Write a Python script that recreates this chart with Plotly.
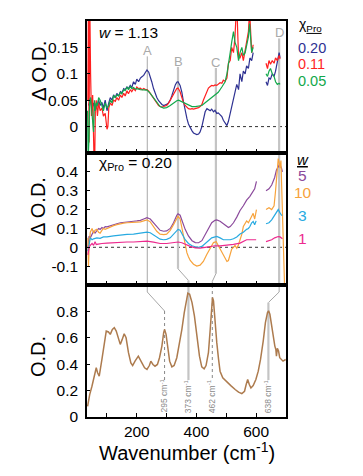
import plotly.graph_objects as go

# ---------------- data ----------------
# Top panel (w = 1.13): ΔO.D. for three χPro values
top_blue_x = [38,44,50,55,60,66,72,77,83,88,94,100,106,111,117,122,128,133,139,145,150,156,161,167,172,178,183,189,195,200,206,212,218,223,229,234,240,245,250,256,262,267,273,278,284,290,300,306,312,317,323,329,334,338,345,351,356,362,368,373,379,385,390,396,401,407,412,418,423,429,435,440,446,451,457,462,468,473,479,485,490,496,502,507,513,518,524,529,535,541,546,552,557,563,568,574,579,585,590,
              None,633,638,643,648,654,660,665,671,677,680]
top_blue_y = [0.04,0.05,0.035,0.045,0.03,0.038,0.05,0.04,0.046,0.035,0.05,0.03,0.045,0.055,0.05,0.06,0.055,0.063,0.058,0.066,0.064,0.072,0.07,0.075,0.072,0.078,0.074,0.085,0.08,0.09,0.085,0.092,0.095,0.097,0.103,0.107,0.103,0.095,0.085,0.072,0.062,0.055,0.049,0.045,0.042,0.04,0.042,0.045,0.05,0.058,0.07,0.079,0.084,0.085,0.078,0.065,0.048,0.03,0.015,0.005,-0.003,-0.008,-0.012,-0.014,-0.015,-0.014,-0.01,0.0,0.015,0.028,0.034,0.032,0.03,0.033,0.028,0.031,0.025,0.026,0.022,0.019,0.012,0.006,0.002,0.01,0.025,0.04,0.05,0.065,0.08,0.07,0.1,0.085,0.105,0.1,0.115,0.11,0.13,0.125,0.14,
              None,0.085,0.078,0.092,0.09,0.1,0.095,0.105,0.12,0.14,0.13]
top_red_x = [36,38,40,42,45,48,52,55,58,61,64,68,72,77,83,88,94,100,103,106,111,117,122,128,133,139,145,150,156,161,167,172,178,183,189,195,200,206,212,218,223,229,234,240,245,250,256,262,267,273,278,284,290,300,306,312,317,323,329,334,338,345,351,356,362,368,373,379,385,390,396,401,407,412,418,423,429,435,440,446,451,457,462,468,473,479,485,490,496,502,507,513,518,524,529,532,535,538,541,546,552,557,563,568,574,578,581,585,590,
             None,633,638,643,648,654,660,665,671,677,680]
top_red_y = [0.05,0.25,-0.03,0.25,0.1,0.02,0.06,-0.08,-0.1,0.03,0.05,0.02,0.045,0.03,0.035,0.02,0.025,-0.005,0.0,0.035,0.045,0.04,0.05,0.048,0.055,0.05,0.06,0.055,0.063,0.058,0.068,0.062,0.07,0.066,0.072,0.068,0.075,0.072,0.073,0.07,0.072,0.07,0.07,0.067,0.063,0.058,0.052,0.047,0.043,0.04,0.038,0.037,0.038,0.04,0.044,0.05,0.055,0.062,0.068,0.072,0.073,0.066,0.055,0.046,0.04,0.036,0.034,0.033,0.034,0.033,0.034,0.034,0.036,0.038,0.042,0.05,0.058,0.068,0.073,0.076,0.078,0.077,0.079,0.078,0.08,0.083,0.082,0.088,0.086,0.092,0.12,0.125,0.15,0.14,0.17,0.21,0.24,0.18,0.13,0.13,0.14,0.125,0.145,0.16,0.18,0.22,0.17,0.14,0.155,
             None,0.12,0.11,0.125,0.118,0.125,0.12,0.13,0.125,0.135,0.128]
top_green_x = [35,37,40,42,45,48,52,55,58,61,64,68,72,77,83,88,94,100,106,111,117,122,128,133,139,145,150,156,161,167,172,178,183,189,195,200,212,223,234,245,256,267,278,290,300,312,323,334,340,351,362,373,385,396,407,418,429,440,451,462,473,485,496,502,507,513,518,524,529,535,541,546,552,557,563,568,574,578,581,585,590,
               None,633,638,643,648,654,660,665,671,677,680]
top_green_y = [0.03,-0.06,-0.02,0.05,0.055,0.035,0.02,-0.01,0.05,0.03,0.045,0.04,0.055,0.05,0.04,0.03,0.045,0.035,0.04,0.05,0.045,0.058,0.055,0.06,0.058,0.065,0.062,0.07,0.068,0.075,0.07,0.076,0.072,0.074,0.071,0.072,0.07,0.07,0.069,0.063,0.055,0.045,0.038,0.035,0.036,0.04,0.045,0.049,0.05,0.047,0.044,0.04,0.038,0.038,0.039,0.04,0.045,0.05,0.055,0.06,0.065,0.075,0.085,0.1,0.115,0.14,0.16,0.18,0.16,0.15,0.125,0.14,0.15,0.135,0.14,0.155,0.17,0.195,0.16,0.14,0.15,
               None,0.1,0.095,0.105,0.11,0.1,0.095,0.085,0.08,0.082,0.08]

# Middle panel (χPro = 0.20): ΔO.D. for four w values
mid_w5_x = [36,40,44,50,55,60,66,72,77,83,88,94,100,111,122,133,145,156,167,178,189,200,212,223,234,245,256,267,278,290,300,312,323,334,338,345,351,362,373,385,396,407,418,429,440,451,462,468,479,490,502,507,513,524,535,546,557,568,579,590,595,601,
            None,633,643,652,662,668,674,679,685,688]
mid_w5_y = [0.0,0.06,0.05,0.07,0.085,0.075,0.09,0.1,0.095,0.105,0.1,0.11,0.108,0.115,0.12,0.125,0.13,0.133,0.135,0.137,0.138,0.14,0.143,0.15,0.157,0.15,0.13,0.105,0.09,0.085,0.087,0.1,0.13,0.17,0.178,0.17,0.14,0.095,0.06,0.035,0.025,0.024,0.035,0.065,0.1,0.13,0.143,0.145,0.138,0.125,0.108,0.105,0.11,0.13,0.16,0.195,0.22,0.25,0.27,0.3,0.31,0.35,
            None,0.3,0.31,0.33,0.37,0.41,0.43,0.44,0.42,0.4]
mid_w10_x = [36,38,40,44,50,55,60,66,72,77,83,88,94,100,111,122,133,145,156,167,178,189,200,212,223,234,245,256,267,278,290,300,312,323,334,338,345,351,356,362,368,373,379,390,401,412,423,434,445,457,466,473,479,490,496,502,507,513,518,524,529,535,540,546,552,557,563,568,574,579,585,590,595,601,
             None,633,643,652,660,665,670,674,677,680,683,686,690,693,697]
mid_w10_y = [0.05,-0.1,0.0,0.08,0.1,0.075,0.09,0.095,0.08,0.075,0.09,0.1,0.095,0.1,0.11,0.115,0.12,0.125,0.128,0.13,0.13,0.13,0.133,0.135,0.14,0.145,0.135,0.11,0.085,0.07,0.067,0.07,0.09,0.12,0.16,0.165,0.15,0.1,0.05,0.0,-0.03,-0.05,-0.07,-0.09,-0.1,-0.095,-0.075,-0.04,-0.005,0.025,0.03,0.01,-0.015,-0.04,-0.06,-0.075,-0.07,-0.04,-0.01,0.0,0.01,-0.005,0.01,0.04,0.07,0.11,0.13,0.14,0.13,0.145,0.16,0.18,0.15,0.2,
             None,0.2,0.21,0.2,0.22,0.3,0.4,0.47,0.45,0.42,0.46,0.3,0.1,-0.1,-0.3]
mid_w3_x = [36,40,44,50,55,66,77,88,100,122,145,167,189,212,234,245,256,267,278,290,300,312,323,334,338,345,351,362,373,385,396,407,418,429,440,451,462,468,479,490,502,513,524,535,546,557,568,574,579,585,590,595,600,
            None,633,643,652,662,668,674,679,685,688]
mid_w3_y = [-0.02,0.03,0.05,0.04,0.045,0.05,0.047,0.055,0.055,0.06,0.065,0.068,0.07,0.075,0.08,0.077,0.065,0.052,0.043,0.04,0.042,0.05,0.07,0.09,0.095,0.09,0.07,0.04,0.02,0.008,0.003,0.0,0.005,0.018,0.035,0.05,0.057,0.058,0.05,0.04,0.04,0.04,0.045,0.055,0.07,0.08,0.095,0.1,0.11,0.13,0.137,0.12,0.14,
            None,0.125,0.13,0.145,0.17,0.19,0.2,0.185,0.17,0.17]
mid_w1_x = [36,40,44,50,55,60,64,72,83,100,122,145,167,189,212,234,256,278,300,323,338,351,362,379,396,412,429,446,462,479,502,524,546,557,568,579,590,600,
            None,633,643,652,662,674,680,688]
mid_w1_y = [-0.04,0.0,0.01,0.02,0.01,0.03,0.015,0.018,0.02,0.022,0.025,0.027,0.028,0.028,0.03,0.033,0.027,0.02,0.02,0.025,0.028,0.024,0.015,0.005,-0.003,-0.004,0.0,0.005,0.008,0.007,0.01,0.015,0.022,0.03,0.04,0.04,0.042,0.04,
            None,0.03,0.035,0.04,0.05,0.057,0.055,0.045]

# Bottom panel: absorbance spectrum
od_x = [35,42,49.6,57,64,68.5,74,83,91,97.5,105,111,118,124.5,131,139,144.5,151,157.6,164,172,180,186,194,205,217,226,234,242,247,254,261,269,276,284,290,293,298,303,310,317.5,325,334,343,351,359,366,371,377,385,393,401,410,417.6,425.6,432,440,446,450,453.6,457,462,468,474,479,488,502,515,529.6,541,552,561,566.5,571.6,577,582.5,590,599,607,614.6,623.6,631,638,641.6,646,651.7,657,662.6,666,668,671,675,679,685,690,699]
od_y = [0.081,0.17,0.233,0.297,0.373,0.335,0.309,0.436,0.563,0.651,0.644,0.626,0.664,0.677,0.651,0.588,0.55,0.588,0.631,0.6,0.487,0.41,0.39,0.423,0.461,0.41,0.373,0.36,0.39,0.423,0.398,0.385,0.398,0.449,0.537,0.639,0.664,0.626,0.537,0.423,0.38,0.39,0.449,0.55,0.664,0.791,0.892,0.938,0.93,0.867,0.766,0.613,0.461,0.38,0.365,0.39,0.487,0.664,0.829,0.905,0.88,0.715,0.563,0.436,0.347,0.297,0.264,0.238,0.208,0.188,0.177,0.195,0.246,0.284,0.246,0.22,0.238,0.284,0.347,0.436,0.575,0.715,0.791,0.804,0.778,0.689,0.588,0.537,0.512,0.461,0.52,0.5,0.449,0.436,0.423,0.436]

# band markers
band_letters = ["A", "B", "C", "D"]
band_x = [235, 338, 465, 677]           # position of bands in the ΔO.D. panels
peak_x = [293, 373, 453, 641]           # matching peaks in the O.D. spectrum
peak_labels = ["295", "373", "462", "638"]

top_series = [("0.20", "#2E3192", top_blue_x, top_blue_y),
              ("0.11", "#FF1F1F", top_red_x, top_red_y),
              ("0.05", "#12A84B", top_green_x, top_green_y)]
mid_series = [("5", "#8B4A9C", mid_w5_x, mid_w5_y),
              ("10", "#F7A33C", mid_w10_x, mid_w10_y),
              ("3", "#27AAE1", mid_w3_x, mid_w3_y),
              ("1", "#EC2A8E", mid_w1_x, mid_w1_y)]
od_color = "#AD7B4E"

# ---------------- figure ----------------
FONT = "Liberation Sans, Arial, sans-serif"
fig = go.Figure()

for name, col, xs, ys in top_series:
    fig.add_trace(go.Scatter(x=xs, y=ys, mode="lines", line=dict(color=col, width=1.2),
                             xaxis="x", yaxis="y", showlegend=False, connectgaps=False))
for name, col, xs, ys in mid_series:
    fig.add_trace(go.Scatter(x=xs, y=ys, mode="lines", line=dict(color=col, width=1.2),
                             xaxis="x2", yaxis="y2", showlegend=False, connectgaps=False))
fig.add_trace(go.Scatter(x=od_x, y=od_y, mode="lines", line=dict(color=od_color, width=1.5),
                         xaxis="x3", yaxis="y3", showlegend=False))

xr = [33, 700]
xt = [100, 200, 300, 400, 500, 600]
common_x = dict(range=xr, showline=True, linewidth=1.5, linecolor="black", mirror=True,
                ticks="inside", ticklen=4, tickwidth=1, tickcolor="black", tickvals=xt,
                showgrid=False, zeroline=False)
common_y = dict(showline=True, linewidth=1.5, linecolor="black", mirror=True,
                ticks="inside", ticklen=3, tickwidth=1, tickcolor="black",
                showgrid=False, zeroline=False, ticklabelstandoff=4,
                tickfont=dict(family=FONT, size=15.5, color="black"))

# page body adds an 8px offset; the figure is sized to fill the rest of the window
fig.update_layout(
    width=355, height=468,
    margin=dict(l=79, r=77, t=13, b=59),
    paper_bgcolor="white", plot_bgcolor="white",
    font=dict(family=FONT, color="black"),
    xaxis=dict(**common_x, anchor="y", showticklabels=False),
    xaxis2=dict(**common_x, anchor="y2", matches="x", showticklabels=False),
    xaxis3=dict(**common_x, anchor="y3", matches="x", ticktext=["", "200", "", "400", "", "600"],
                tickfont=dict(family=FONT, size=15.5, color="black")),
    yaxis=dict(**common_y, domain=[2/3, 1], range=[-0.05, 0.2],
               tickvals=[0, 0.05, 0.1, 0.15], ticktext=["0", "0.05", "0.1", "0.15"]),
    yaxis2=dict(**common_y, domain=[1/3, 2/3], range=[-0.2, 0.5],
                tickvals=[-0.1, 0, 0.1, 0.2, 0.3, 0.4], ticktext=["-0.1", "0", "0.1", "0.2", "0.3", "0.4"]),
    yaxis3=dict(**common_y, domain=[0, 1/3], range=[0, 1.0],
                tickvals=[0, 0.2, 0.4, 0.6, 0.8], ticktext=["0", "0.2", "0.4", "0.6", "0.8"]),
)

shapes = []
def seg(x0, y0, x1, y1, yref, color="#C4C4C4", width=2.2, dash="solid"):
    shapes.append(dict(type="line", xref="x", yref=yref, x0=x0, y0=y0, x1=x1, y1=y1,
                       line=dict(color=color, width=width, dash=dash), layer="below"))

thin = dict(color="#A8A8A8", width=1)
# zero lines
for yr in ["y", "y2"]:
    shapes.append(dict(type="line", xref="x domain", yref=yr, x0=0, x1=1, y0=0, y1=0,
                       line=dict(color="#333333", width=1, dash="dot"), layer="below"))

letter_y = [0.145, 0.124, 0.122, 0.179]
line_top = [0.133, 0.113, 0.111, 0.167]
# top panel verticals
for i, bx in enumerate(band_x):
    if i == 0:
        seg(bx, line_top[i], bx, -0.05, "y", **thin)
        seg(bx, 0.5, bx, -0.2, "y2", **thin)
    else:
        seg(bx, line_top[i], bx, -0.05, "y")
# B (middle panel, shifts to peak)
seg(band_x[1], 0.5, band_x[1], -0.114, "y2")
seg(band_x[1], -0.114, peak_x[1], -0.176, "y2", **thin)
seg(peak_x[1], -0.176, peak_x[1], -0.2, "y2")
seg(peak_x[1], 1.0, peak_x[1], 0.28, "y3")
# C
seg(band_x[2], 0.5, band_x[2], -0.14, "y2")
seg(band_x[2], -0.14, peak_x[2], -0.181, "y2", **thin)
seg(peak_x[2], -0.181, peak_x[2], -0.2, "y2", **thin)
seg(peak_x[2], 1.0, peak_x[2], 0.28, "y3", color="#888888", width=1, dash="dot")
# D
seg(band_x[3], 0.5, band_x[3], -0.2, "y2")
seg(band_x[3], 1.0, band_x[3], 0.947, "y3", **thin)
seg(band_x[3], 0.947, peak_x[3], 0.867, "y3", **thin)
seg(peak_x[3], 0.867, peak_x[3], 0.28, "y3")
# A
seg(band_x[0], 1.0, band_x[0], 0.947, "y3", **thin)
seg(band_x[0], 0.947, peak_x[0], 0.803, "y3", **thin)
seg(peak_x[0], 0.803, peak_x[0], 0.28, "y3", color="#888888", width=1, dash="dot")
fig.update_layout(shapes=shapes)

ann = []
for i, L in enumerate(band_letters):
    ann.append(dict(x=band_x[i], y=letter_y[i], xref="x", yref="y", text=L, showarrow=False,
                    font=dict(family=FONT, size=13, color="#AAAAAA"), xanchor="center", yanchor="middle"))
for i, lab in enumerate(peak_labels):
    ann.append(dict(x=peak_x[i], y=0.16, xref="x3", yref="y3", text=lab + " cm<sup>-1</sup>",
                    showarrow=False, textangle=-90, font=dict(family=FONT, size=8.5, color="#8A8A8A"),
                    xanchor="center", yanchor="middle"))

# panel texts
ann.append(dict(x=0.05, y=0.97, xref="paper", yref="paper", text="<i>w</i> = 1.13", showarrow=False,
                font=dict(family=FONT, size=15.5), xanchor="left", yanchor="middle"))
ann.append(dict(x=0.05, y=0.639, xref="paper", yref="paper", text="χ<sub>Pro</sub> = 0.20", showarrow=False,
                font=dict(family=FONT, size=15.5), xanchor="left", yanchor="middle"))

# legends
ann.append(dict(x=1.055, y=0.962, xref="paper", yref="paper", text="<u>χ<sub>Pro</sub></u>", showarrow=False,
                font=dict(family=FONT, size=14), xanchor="left", yanchor="bottom"))
for (name, col, _, _), yy in zip(top_series, [(417 - 47.5) / 396, (417 - 64) / 396, (417 - 80.5) / 396]):
    ann.append(dict(x=1.05, y=yy, xref="paper", yref="paper", text=name, showarrow=False,
                    font=dict(family=FONT, size=14.5, color=col), xanchor="left", yanchor="middle"))
ann.append(dict(x=1.085, y=0.649, xref="paper", yref="paper", text="<u><i>w</i></u>", showarrow=False,
                font=dict(family=FONT, size=15), xanchor="center", yanchor="middle"))
for (name, col, _, _), yy in zip(mid_series, [0.611, 0.566, 0.51, 0.452]):
    ann.append(dict(x=1.085, y=yy, xref="paper", yref="paper", text=name, showarrow=False,
                    font=dict(family=FONT, size=15.5, color=col), xanchor="center", yanchor="middle"))

# axis titles
ann.append(dict(x=-0.246, y=(417 - 71) / 396, xref="paper", yref="paper", text="Δ O.D.", showarrow=False,
                textangle=-90, font=dict(family=FONT, size=20.5), xanchor="center", yanchor="middle"))
ann.append(dict(x=-0.246, y=(417 - 207) / 396, xref="paper", yref="paper", text="Δ O.D.", showarrow=False,
                textangle=-90, font=dict(family=FONT, size=20), xanchor="center", yanchor="middle"))
ann.append(dict(x=-0.246, y=(417 - 357) / 396, xref="paper", yref="paper", text="O.D.", showarrow=False,
                textangle=-90, font=dict(family=FONT, size=20), xanchor="center", yanchor="middle"))
ann.append(dict(x=0.5025, y=(417 - 451) / 396, xref="paper", yref="paper", text="Wavenumber (cm<sup>-1</sup>)",
                showarrow=False, font=dict(family=FONT, size=20), xanchor="center", yanchor="middle"))
fig.update_layout(annotations=ann)

fig.write_html("out.html")
